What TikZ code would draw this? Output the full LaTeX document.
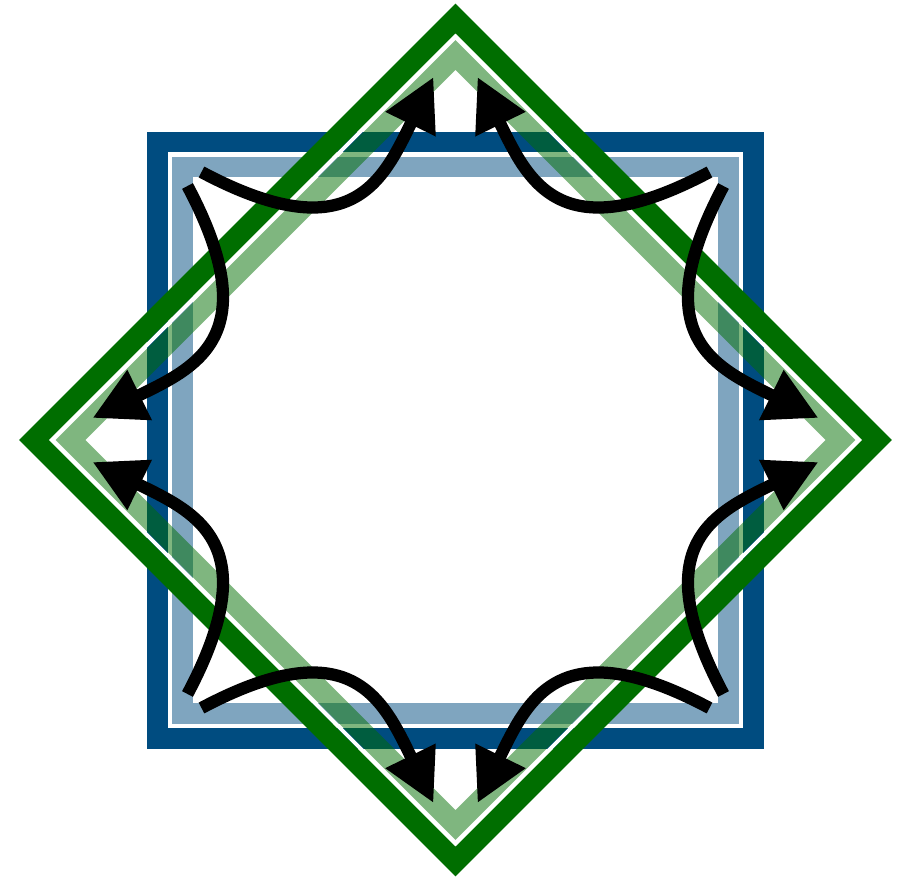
\documentclass[tikz,border=0pt]{standalone}
\usetikzlibrary{arrows.meta}
\definecolor{frameblue}{RGB}{0,76,128}
\definecolor{framegreen}{RGB}{0,110,0}

\begin{document}
\begin{tikzpicture}[x=0.02cm, y=0.02cm,
    band/.style={line width=0.42cm},
    gapline/.style={draw=white, line width=0.075cm},
    flowarrow/.style={draw=black, line width=0.245cm, -{Triangle[length=1.05cm, width=1.05cm]}},
]
    \useasboundingbox (-455.5,-440) rectangle (457.5,440);
    % square frame
    \draw[band, frameblue] (-298,-298) rectangle (298,298);
    \draw[gapline] (-285.5,-285.5) rectangle (285.5,285.5);
    \draw[band, frameblue, draw opacity=0.5] (-273,-273) rectangle (273,273);
    % diamond frame
    \draw[band, framegreen] (0,421.5) -- (421.5,0) -- (0,-421.5) -- (-421.5,0) -- cycle;
    \draw[gapline] (0,403.5) -- (403.5,0) -- (0,-403.5) -- (-403.5,0) -- cycle;
    \draw[band, framegreen, draw opacity=0.5] (0,385) -- (385,0) -- (0,-385) -- (-385,0) -- cycle;
    % arrows, two per corner
    \foreach \a in {0,90,180,270} {
        \begin{scope}[rotate=\a]
            \coordinate (s\a) at (-254,268);
            \coordinate (t\a) at (-22,363);
            \coordinate (u\a) at (-268,254);
            \coordinate (v\a) at (-363,22);
            \draw[flowarrow] (s\a) .. controls +(-28:170) and +(244:115) .. (t\a);
            \draw[flowarrow] (u\a) .. controls +(-62:170) and +(26:115) .. (v\a);
        \end{scope}
    }
\end{tikzpicture}
\end{document}
